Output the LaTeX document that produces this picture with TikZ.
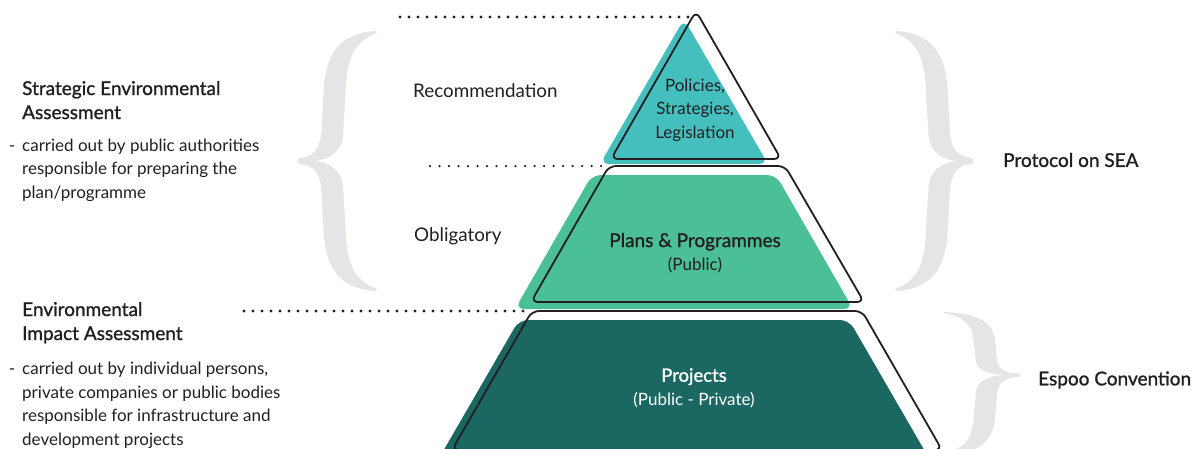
\documentclass[tikz,border=0pt]{standalone}
\usepackage{fontspec}
\setmainfont{Lato}
\newfontfamily\medfont[FakeBold=1.2]{Lato}
\definecolor{policyteal}{HTML}{45BFBE}
\definecolor{plangreen}{HTML}{4BBF95}
\definecolor{projectdark}{HTML}{1B6762}
\definecolor{bracegray}{HTML}{E4E5E7}
\definecolor{inkdark}{HTML}{231F20}
\tikzset{
	txt/.style = {text=inkdark, inner sep=0pt, font=\fontsize{17}{23.5}\selectfont},
	tag/.style = {txt, anchor=west, font=\fontsize{18.8}{23.5}\selectfont},
	head/.style = {txt, align=left, font=\fontsize{19}{24}\selectfont\medfont},
	body/.style = {txt, align=left},
	treaty/.style = {txt, anchor=west, font=\fontsize{19}{24}\selectfont\medfont},
	levelfill/.style = {rounded corners=9pt},
	leveloutline/.style = {draw=inkdark, line width=1.8pt, rounded corners=7pt},
	dotline/.style = {inkdark, line width=3.3pt, line cap=round, dash pattern=on 0pt off 9pt}
}
\newcommand{\seabrace}[5]{%
	\begin{scope}[shift={(#1,#3)}]
		\pgfmathsetmacro\bw{#5}\pgfmathsetmacro\bt{#3-#2}\pgfmathsetmacro\bb{#4-#3}
		\fill[bracegray] (0.02*\bw,-\bt)
			.. controls (0.45*\bw,-0.98*\bt) and (0.66*\bw,-0.85*\bt) .. (0.68*\bw,-0.5*\bt)
			-- (0.7*\bw,-0.25*\bt)
			.. controls (0.71*\bw,-0.1*\bt) and (0.8*\bw,-0.03*\bt) .. (0.97*\bw,-0.025*\bt)
			.. controls (1.02*\bw,-0.02*\bt) and (1.02*\bw,0.02*\bb) .. (0.97*\bw,0.025*\bb)
			.. controls (0.8*\bw,0.03*\bb) and (0.71*\bw,0.1*\bb) .. (0.7*\bw,0.25*\bb)
			-- (0.68*\bw,0.5*\bb)
			.. controls (0.66*\bw,0.85*\bb) and (0.45*\bw,0.98*\bb) .. (0.02*\bw,\bb)
			-- (0,0.985*\bb)
			.. controls (0.3*\bw,0.92*\bb) and (0.39*\bw,0.78*\bb) .. (0.4*\bw,0.5*\bb)
			-- (0.43*\bw,0.2*\bb)
			.. controls (0.45*\bw,0.07*\bb) and (0.6*\bw,0.01*\bb) .. (0.8*\bw,0)
			.. controls (0.6*\bw,-0.01*\bt) and (0.45*\bw,-0.07*\bt) .. (0.43*\bw,-0.2*\bt)
			-- (0.4*\bw,-0.5*\bt)
			.. controls (0.39*\bw,-0.78*\bt) and (0.3*\bw,-0.92*\bt) .. (0,-0.985*\bt)
			-- cycle;
	\end{scope}}
\begin{document}
\begin{tikzpicture}[x=1pt, y=-1pt]
	\useasboundingbox (0,0) rectangle (1197,448);
	\seabrace{377}{31}{161}{291}{-79}
	\seabrace{895}{31}{161}{291}{78}
	\seabrace{943}{312}{375}{455}{77}
	\fill[policyteal, levelfill] (684,19) -- (768,164) -- (600,164) -- cycle;
	\fill[plangreen, levelfill] (592,175) -- (776,175) -- (853,309) -- (515,309) -- cycle;
	\fill[projectdark, levelfill] (519,320) -- (849,320) -- (930,460) -- (438,460) -- cycle;
	\draw[leveloutline] (696,11) -- (781,159) -- (611,159) -- cycle;
	\draw[leveloutline] (609,166) -- (785,166) -- (864,302) -- (531,302) -- cycle;
	\draw[leveloutline] (532,311) -- (862,311) -- (942,450) -- (452,450) -- cycle;
	\coordinate (apex) at (695,17);
	\coordinate (d1) at (400,17);
	\coordinate (d2a) at (430,166);
	\coordinate (d2b) at (603,166);
	\coordinate (d3a) at (244,311);
	\coordinate (d3b) at (528,311);
	\draw[dotline] (d1) -- (apex);
	\draw[dotline, line width=2.5pt, dash pattern=on 0pt off 9.5pt] (d2a) -- (d2b);
	\draw[dotline] (d3a) -- (d3b);
	\node[tag] (rec) at (413,91) {Recommendation};
	\node[tag] (obl) at (414,236) {Obligatory};
	\node[txt, align=center] (policies) at (695,110) {Policies,\\Strategies,\\Legislation};
	\node[txt, align=center] (plans) at (695,253) {{\fontsize{19}{23.5}\selectfont\medfont Plans \& Programmes}\\(Public)};
	\node[txt, align=center, text=white] (projects) at (694,388) {{\fontsize{18.5}{23.5}\selectfont\medfont Projects}\\(Public - Private)};
	\node[head, anchor=base west] (sea) at (22,119) {Strategic Environmental\\Assessment};
	\node[body, anchor=base west] (seatext) at (22,198) {\llap{-\hspace{7pt}}carried out by public authorities\\responsible for preparing the\\plan/programme};
	\node[head, anchor=base west] (eia) at (22,340) {Environmental\\Impact Assessment};
	\node[body, anchor=base west] (eiatext) at (22,445) {\llap{-\hspace{7pt}}carried out by individual persons,\\private companies or public bodies\\responsible for infrastructure and\\development projects};
	\node[treaty] (protocol) at (1003,160) {Protocol on SEA};
	\node[treaty] (espoo) at (1038,380) {Espoo Convention};
\end{tikzpicture}
\end{document}
